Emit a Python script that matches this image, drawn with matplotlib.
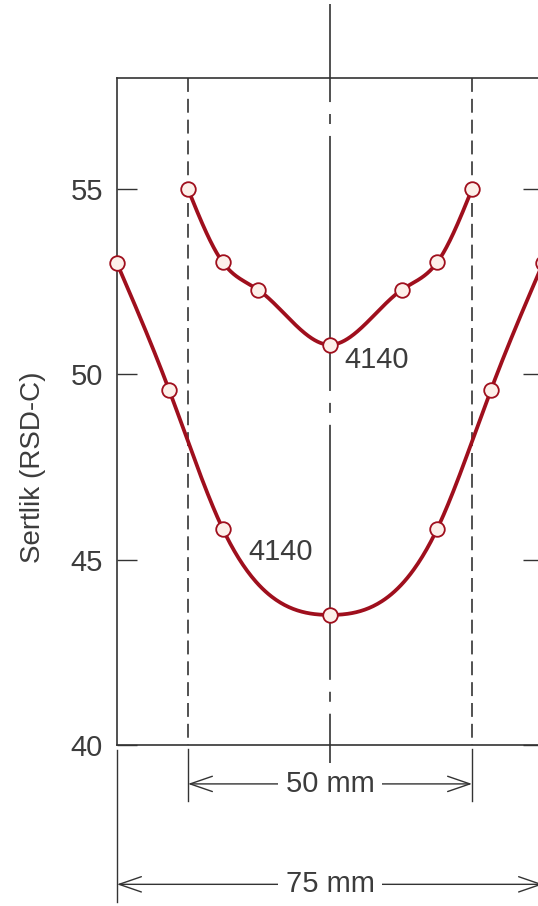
"""Hardness profile across two 4140 bars (50 mm and 75 mm diameter)."""
import matplotlib
matplotlib.use("Agg")
import matplotlib.pyplot as plt
import numpy as np

plt.rcParams["font.family"] = ["Liberation Sans", "DejaVu Sans"]
plt.rcParams["lines.scale_dashes"] = False

# position from bar centre (mm) and hardness (RSD-C)
POS_75 = [-37.5, -28.3, -18.9, 0.0, 18.9, 28.3, 37.5]
HRD_75 = [53.0, 49.57, 45.84, 43.51, 45.84, 49.57, 53.0]
POS_50 = [-25.0, -18.9, -12.6, 0.0, 12.6, 18.9, 25.0]
HRD_50 = [55.0, 53.03, 52.28, 50.8, 52.28, 53.03, 55.0]

Y_TICKS = [40, 45, 50, 55]
STEEL = "4140"
Y_LABEL = "Sertlik (RSD-C)"

RED = "#9f0f1d"
INK = "#333333"
TXT = "#3c3c3c"
FS = 21


def natural_spline(x, y, n=400):
    """Natural cubic spline through the points, only used to draw a smooth line."""
    x = np.asarray(x, float); y = np.asarray(y, float)
    h = np.diff(x); d = np.diff(y) / h
    k = len(x)
    A = np.zeros((k, k)); b = np.zeros(k)
    A[0, 0] = A[-1, -1] = 1
    for i in range(1, k - 1):
        A[i, i - 1] = h[i - 1]; A[i, i] = 2 * (h[i - 1] + h[i]); A[i, i + 1] = h[i]
        b[i] = 6 * (d[i] - d[i - 1])
    M = np.linalg.solve(A, b)
    xs = np.linspace(x[0], x[-1], n)
    j = np.clip(np.searchsorted(x, xs) - 1, 0, k - 2)
    t0 = x[j + 1] - xs; t1 = xs - x[j]; hj = h[j]
    ys = (M[j] * t0**3 + M[j + 1] * t1**3) / (6 * hj) \
        + (y[j] / hj - M[j] * hj / 6) * t0 + (y[j + 1] / hj - M[j + 1] * hj / 6) * t1
    return xs, ys


def dimension(ax, x0, x1, y, label):
    ax.annotate("", xy=(x0, y), xytext=(x1, y), annotation_clip=False,
                arrowprops=dict(arrowstyle="<->,head_length=1.6,head_width=0.55",
                                mutation_scale=10, color=INK, lw=1.0,
                                shrinkA=0, shrinkB=0))
    ax.text(0, y, label, ha="center", va="center", fontsize=FS, color=TXT,
            clip_on=False,
            bbox=dict(boxstyle="square,pad=0.25", fc="white", ec="none"))


fig = plt.figure(figsize=(5.38, 9.06), dpi=100)
ax = fig.add_axes([117 / 538, 161 / 906, 426 / 538, 667 / 906])
ax.set_xlim(-37.5, 37.5); ax.set_ylim(40, 58)

for s in ax.spines.values():
    s.set_color(INK); s.set_linewidth(1.2)
ax.set_xticks([])
ax.set_yticks(Y_TICKS)
ax.tick_params(axis="y", which="both", direction="in", length=14.4, width=1.0,
               color=INK, left=True, right=True, labelsize=FS, labelcolor=TXT, pad=10)

# reference lines: centre line (dash-dot), 50 mm edges (dashed) and extension lines
ax.plot([0, 0], [60.0, 39.4], color=INK, lw=1.2, clip_on=False,
        ls=(113, (183.6, 8.6, 7.2, 8.6)))
for xe in (-25, 25):
    ax.plot([xe, xe], [58, 40], color=INK, lw=1.2, ls=(0, (10, 5)), clip_on=False)
    ax.plot([xe, xe], [39.9, 38.5], color=INK, lw=1.0, clip_on=False)
for xe in (-37.5, 37.5):
    ax.plot([xe, xe], [39.86, 35.75], color=INK, lw=1.0, clip_on=False)

# hardness curves
for pos, hrd in ((POS_75, HRD_75), (POS_50, HRD_50)):
    xs, ys = natural_spline(pos, hrd)
    ax.plot(xs, ys, color=RED, lw=2.7, clip_on=False, zorder=3)
    ax.plot(pos, hrd, "o", ms=10.5, mfc="#fdf0ea", mec=RED, mew=1.3,
            clip_on=False, zorder=4)

ax.text(2.6, 50.4, STEEL, ha="left", va="center", fontsize=FS, color=TXT)
ax.text(-14.3, 45.2, STEEL, ha="left", va="center", fontsize=FS, color=TXT)

dimension(ax, -25, 25, 38.95, "50 mm")
dimension(ax, -37.5, 37.5, 36.24, "75 mm")

fig.text(33 / 538, 1 - 467 / 906, Y_LABEL, rotation=90, ha="center", va="center",
         fontsize=20, color=TXT)

fig.savefig("out.png", dpi=100)
